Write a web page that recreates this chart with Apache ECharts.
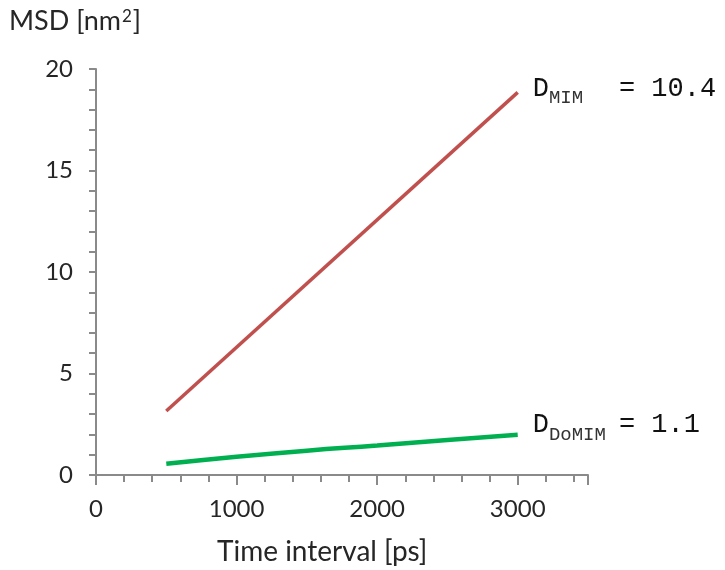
<!DOCTYPE html>
<html>
<head>
<meta charset="utf-8">
<script src="https://cdn.jsdelivr.net/npm/echarts@6/dist/echarts.min.js"></script>
<style>
  html, body { margin: 0; padding: 0; background: #fff; }
  #main { width: 725px; height: 570px; }
</style>
</head>
<body>
<div id="main"></div>
<script>
// time interval [ps]
const mimTime = [500, 3000];
const mimMsd = [3.15, 18.85];
const domimTime = [500, 1000, 1500, 2000, 2500, 3000];
const domimMsd = [0.55, 0.9, 1.2, 1.45, 1.72, 1.98];

const mimLabel = ['MIM', '= 10.4'];
const domimLabel = ['DoMIM', '= 1.1'];

const axisColor = '#8a8a8a';
const textColor = '#262626';
const labelFont = 'Lato, "Open Sans", sans-serif';

function pairs(xs, ys) {
    return xs.map((x, i) => [x, ys[i]]);
}

function endLabel(parts, offset) {
    return {
        show: true,
        distance: 15,
        offset: offset,
        formatter: '{d|D}{s|' + parts[0] + '}{e|' + parts[1] + '}',
        rich: {
            d: { fontFamily: '"Liberation Mono", monospace', fontSize: 27, color: '#111' },
            s: { fontFamily: '"Liberation Mono", monospace', fontSize: 19, color: '#333',
                 width: 70, verticalAlign: 'bottom', padding: [0, 0, -6, 0] },
            e: { fontFamily: '"Liberation Mono", monospace', fontSize: 27, color: '#111' }
        }
    };
}

const chart = echarts.init(document.getElementById('main'));
chart.setOption({
    animation: false,
    grid: { left: 96, right: 137, top: 69, bottom: 95 },
    xAxis: {
        type: 'value',
        min: 0,
        max: 3500,
        interval: 1000,
        splitLine: { show: false },
        axisLine: { show: true, onZero: false, lineStyle: { color: axisColor, width: 2 } },
        axisTick: { show: true, length: 10, lineStyle: { color: axisColor, width: 2 } },
        minorTick: { show: true, splitNumber: 5, length: 7, lineStyle: { color: axisColor, width: 2 } },
        axisLabel: {
            margin: 22, fontSize: 24, color: textColor, fontFamily: labelFont,
            formatter: v => (v > 3000 ? '' : String(v))
        }
    },
    yAxis: {
        type: 'value',
        min: 0,
        max: 20,
        interval: 5,
        splitLine: { show: false },
        axisLine: { show: true, lineStyle: { color: axisColor, width: 2 } },
        axisTick: { show: true, length: 7, lineStyle: { color: axisColor, width: 2 } },
        minorTick: { show: true, splitNumber: 5, length: 7, lineStyle: { color: axisColor, width: 2 } },
        axisLabel: { margin: 23, fontSize: 24, color: textColor, fontFamily: labelFont }
    },
    graphic: [
        {
            type: 'text', left: 9, top: 8,
            style: {
                text: 'MSD [nm{sup|2}]', fontSize: 27, fill: textColor, fontFamily: labelFont,
                rich: { sup: { fontSize: 17, fill: textColor, fontFamily: labelFont, verticalAlign: 'top', padding: [0, 1, 8, 1] } }
            }
        },
        {
            type: 'text', left: 217, top: 538,
            style: { text: 'Time interval [ps]', fontSize: 28, fill: textColor, fontFamily: labelFont }
        }
    ],
    series: [
        {
            name: 'MIM',
            type: 'line',
            data: pairs(mimTime, mimMsd),
            showSymbol: false,
            lineStyle: { color: '#c0504d', width: 3.5 },
            endLabel: endLabel(mimLabel, [0, -4])
        },
        {
            name: 'DoMIM',
            type: 'line',
            data: pairs(domimTime, domimMsd),
            smooth: true,
            showSymbol: false,
            lineStyle: { color: '#00b050', width: 4.5 },
            endLabel: endLabel(domimLabel, [0, -10])
        }
    ]
});
</script>
</body>
</html>
